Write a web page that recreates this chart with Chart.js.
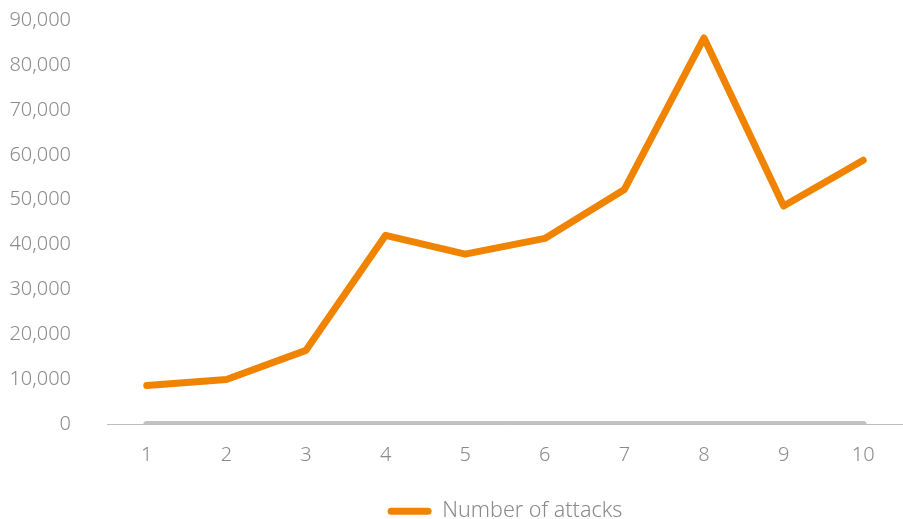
<!DOCTYPE html>
<html>
<head>
<meta charset="utf-8">
<script src="https://cdn.jsdelivr.net/npm/chart.js@4"></script>
<style>
  html, body { margin: 0; padding: 0; background: #fff; }
  #wrap { width: 903px; height: 519px; }
</style>
</head>
<body>
<div id="wrap"><canvas id="chart" width="903" height="519"></canvas></div>
<script>
const labels = ['1', '2', '3', '4', '5', '6', '7', '8', '9', '10'];
const attacks = [8700, 10000, 16500, 42100, 37900, 41400, 52300, 86000, 48600, 58800];
const baseline = [0, 0, 0, 0, 0, 0, 0, 0, 0, 0];

const orange = '#f08300';
const grey = '#c2c2c2';
const textGrey = '#8a8a8a';

Chart.defaults.font.family = '"Noto Sans", sans-serif';
Chart.defaults.font.size = 20;
Chart.defaults.font.weight = 300;
Chart.defaults.color = textGrey;

// legend sits centred under the plot area, a bit lower than default
const legendShift = {
    id: 'legendShift',
    afterLayout(chart) {
        const lg = chart.legend;
        lg.left = chart.chartArea.left;
        lg.top += 13;
        lg.bottom += 13;
    }
};

new Chart(document.getElementById('chart').getContext('2d'), {
    type: 'line',
    data: {
        labels: labels,
        datasets: [{
            label: 'Number of attacks',
            data: attacks,
            borderColor: orange,
            backgroundColor: orange,
            borderWidth: 7,
            borderCapStyle: 'round',
            borderJoinStyle: 'round',
            pointRadius: 0,
            tension: 0
        }, {
            label: 'baseline',
            data: baseline,
            borderColor: grey,
            backgroundColor: grey,
            borderWidth: 7,
            borderCapStyle: 'round',
            pointRadius: 0,
            tension: 0
        }]
    },
    options: {
        responsive: false,
        animation: false,
        layout: { padding: { left: 0, top: 20, right: 0, bottom: 0 } },
        scales: {
            x: {
                offset: true,
                grid: { display: true, drawOnChartArea: false, drawTicks: true, tickLength: 15, tickColor: 'rgba(0,0,0,0)' },
                border: { display: true, color: '#bdbdbd', width: 1 },
                ticks: { padding: 4, color: textGrey },
                afterFit: scale => { scale.height = 61; }
            },
            y: {
                min: 0,
                max: 90000,
                grid: { display: true, drawOnChartArea: false, drawTicks: true, tickLength: 32, tickColor: 'rgba(0,0,0,0)' },
                border: { display: false },
                ticks: {
                    stepSize: 10000,
                    padding: 4,
                    color: textGrey,
                    callback: v => v.toLocaleString('en-US')
                },
                afterFit: scale => { scale.width = 107; }
            }
        },
        plugins: {
            legend: {
                position: 'bottom',
                labels: {
                    generateLabels: chart => Chart.defaults.plugins.legend.labels.generateLabels(chart)
                        .filter(item => item.datasetIndex === 0)
                        .map(item => Object.assign(item, { lineWidth: 0 })),
                    boxWidth: 44,
                    boxHeight: 7,
                    useBorderRadius: true,
                    borderRadius: 3.5,
                    padding: 2,
                    color: textGrey,
                    font: { size: 21.5 }
                }
            },
            tooltip: { enabled: false }
        }
    },
    plugins: [legendShift]
});
</script>
</body>
</html>
